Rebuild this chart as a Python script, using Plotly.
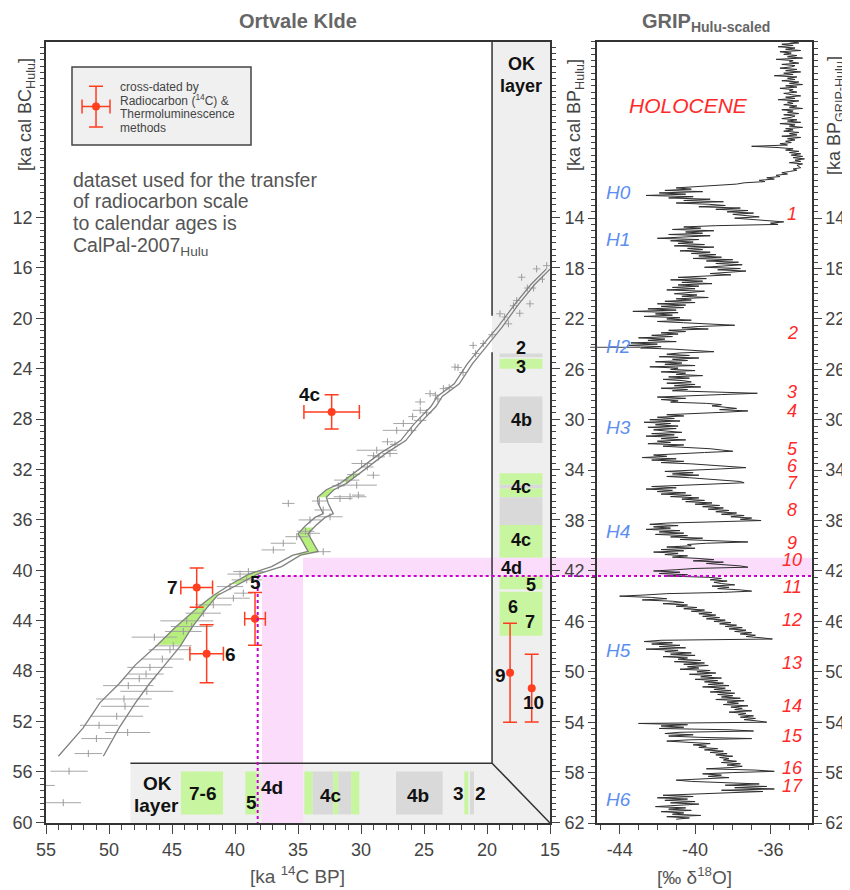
import numpy as np
import plotly.graph_objects as go

W, H = 850, 890
OFF = 8  # page body margin of the browser
def px(x):
    return (x - OFF) / W
def py(y):
    return 1 - (y - OFF) / H

# ---------------- DATA ----------------
# Calibration curve envelope (CalPal-2007 Hulu): cal ka BC vs 14C ka BP
cal_bc = [54.75, 52.5, 50.5, 49.0, 47.5, 46.0, 44.5, 43.0, 42.0, 41.0,
          40.3, 39.7, 38.8, 38.5, 37.6, 37.1, 36.5, 35.8, 35.5, 34.7,
          34.2, 33.6, 33.1, 32.3, 30.7, 29.7, 28.4, 27.0, 26.2, 25.2,
          23.6, 22.3, 20.7, 18.9, 17.3, 16.1]
cal_c14_old = [54.02, 52.05, 50.71, 49.2, 47.9, 46.25, 44.71, 43.02, 41.72, 40.16,
               38.9, 37.1, 35.4, 34.2, 34.7, 35.0, 34.45, 33.65, 33.0, 33.4,
               33.45, 32.75, 31.65, 30.6, 28.45, 26.85, 25.8, 24.45, 23.95, 22.6,
               21.55, 20.5, 19.15, 17.8, 16.5, 15.3]
cal_c14_young = [50.45, 49.2, 47.89, 46.8, 45.56, 44.33, 43.4, 42.25, 41.4, 39.5,
                 38.2, 36.3, 34.8, 33.4, 33.9, 34.2, 33.65, 32.85, 32.2, 32.6,
                 32.75, 32.15, 31.15, 30.1, 28.0, 26.45, 25.4, 24.05, 23.55, 22.2,
                 21.15, 20.1, 18.8, 17.5, 16.2, 15.0]

# calibration data points (14C age, 1-sigma, cal BC)
cal_pts_c14 = [53.17, 55.3, 53.63, 51.64, 51.0, 48.52, 50.79, 49.39, 48.73, 48.81,
               47.0, 48.47, 47.6, 47.06, 46.75, 45.77, 45.16, 44.9, 46.4, 44.1,
               43.44, 43.83, 42.52, 41.72, 40.13, 39.34, 40.4, 39.07, 38.94, 39.6,
               36.96, 36.17, 35.1, 34.05, 33.0, 34.05, 35.77, 33.0, 32.46, 31.67,
               30.87, 30.21, 30.34, 31.13, 29.95, 29.02, 28.75, 27.17, 27.7, 26.64,
               25.3, 25.3, 25.3, 24.52, 23.46, 22.54, 21.1, 18.97, 17.4, 17.25,
               16.06, 15.26, 16.59, 17.64, 18.3, 16.8, 17.9, 19.6, 20.9, 21.9,
               23.0, 23.9, 24.8, 26.0, 27.3, 28.6, 29.5, 31.8, 33.3, 34.4,
               22.3, 24.1, 25.9, 27.9, 29.0, 30.6, 20.3, 18.6, 16.3, 15.6]
cal_pts_err = [1.48, 1.0, 1.41, 1.1, 1.2, 1.79, 1.52, 2.1, 1.9, 2.2,
               2.1, 2.0, 1.3, 1.4, 1.8, 1.7, 1.7, 1.45, 1.8, 1.45,
               1.65, 2.1, 1.4, 1.45, 1.3, 0.73, 1.05, 1.2, 1.2, 1.0,
               0.93, 1.0, 0.9, 0.8, 0.6, 0.9, 0.5, 0.7, 1.0, 1.0,
               1.3, 0.5, 1.6, 1.0, 0.8, 0.5, 1.6, 1.1, 0.6, 0.8,
               0.5, 0.6, 0.4, 0.4, 0.3, 0.3, 0.3, 0.3, 0.3, 0.3,
               0.3, 0.3, 0.3, 0.3, 0.3, 0.25, 0.3, 0.3, 0.3, 0.3,
               0.35, 0.3, 0.4, 0.4, 0.4, 0.5, 0.5, 0.5, 0.6, 0.7,
               0.3, 0.3, 0.35, 0.45, 0.5, 0.5, 0.25, 0.25, 0.2, 0.2]
cal_pts_bc = [55.94, 57.07, 58.44, 54.54, 53.35, 52.87, 52.3, 51.58, 50.79, 50.21,
              49.6, 49.15, 48.6, 48.23, 47.7, 47.04, 46.3, 45.99, 45.3, 44.85,
              44.46, 44.01, 43.4, 42.74, 42.21, 41.81, 41.29, 40.76, 40.1, 40.3,
              38.38, 37.85, 37.33, 37.06, 38.52, 36.0, 34.69, 35.21, 35.75, 34.3,
              34.16, 34.03, 33.24, 32.84, 31.52, 32.45, 30.47, 28.89, 30.73, 28.35,
              28.1, 27.3, 26.64, 25.98, 25.58, 23.87, 22.15, 19.64, 19.6, 16.74,
              16.08, 15.82, 18.85, 18.59, 20.44, 17.6, 19.0, 21.3, 22.8, 24.3,
              25.5, 26.4, 27.5, 28.9, 30.0, 31.0, 31.8, 33.3, 34.5, 36.9,
              23.9, 26.1, 27.8, 29.8, 30.9, 32.4, 22.0, 19.9, 17.6, 16.9]

# Ortvale Klde samples cross-dated by 14C & TL
xd_labels = ["4c", "7", "5", "6"]
xd_c14 = [32.33, 43.04, 38.41, 42.25]
xd_c14_err = [2.2, 1.26, 0.82, 1.33]
xd_bc = [27.43, 41.37, 43.85, 46.62]
xd_bc_err = [1.36, 1.55, 2.1, 2.3]
# TL-only samples (no 14C error)
tl_labels = ["9", "10"]
tl_c14 = [18.17, 16.45]
tl_bc = [48.12, 49.35]
tl_bc_err = [3.93, 2.69]

# OK layers on the calendar scale (cal ka BC): top, bottom, kind
cal_layer_top = [22.8, 23.2, 26.2, 32.3, 33.2, 33.5, 34.2, 36.4, 40.1, 41.7]
cal_layer_bot = [23.1, 24.0, 29.9, 33.2, 33.5, 34.2, 36.4, 39.0, 41.5, 45.2]
cal_layer_kind = ["gray", "green", "gray", "green", "gray", "green", "gray", "green", "green", "green"]
# OK layers on the radiocarbon scale (14C ka BP): old, young, kind
c14_layer_old = [44.29, 39.18, 38.28, 34.5, 33.83, 32.2, 31.8, 30.79, 27.22, 21.8, 21.35]
c14_layer_young = [40.95, 38.28, 37.9, 33.83, 32.2, 31.8, 30.79, 30.13, 23.52, 21.48, 21.03]
c14_layer_kind = ["green", "green", "pale", "green", "gray", "green", "gray", "green", "gray", "green", "gray"]

# layer 4d ranges (highlighted)
l4d_bc = [39.0, 40.44]
l4d_c14 = [37.86, 34.6]
l4d_dot_bc = 40.44
l4d_dot_c14 = 38.2

# calibration-curve intervals coloured as OK layers (cal ka BC)
curve_green_bc = [[32.3, 33.0], [33.5, 34.2], [36.6, 38.8], [40.1, 41.1], [41.8, 45.9]]

# GRIP (Hulu-scaled) d18O, one value every 0.1 ka from 0 ka BP (one row per ka)
grip_start, grip_step = 0.0, 0.1
grip_d18o = [
    -35.0, -34.5, -35.4, -34.8, -35.6, -34.7, -35.2, -34.4, -35.5, -34.9,
    -35.3, -34.6, -35.1, -34.3, -35.7, -34.8, -35.0, -34.5, -35.4, -34.7,
    -34.9, -35.5, -34.6, -35.2, -34.4, -35.3, -34.8, -35.8, -34.6, -35.1,
    -34.7, -35.4, -34.5, -35.0, -34.3, -35.2, -34.6, -35.5, -34.8, -35.0,
    -34.6, -35.3, -34.9, -34.4, -35.2, -34.7, -35.6, -34.5, -35.1, -34.8,
    -35.3, -34.6, -35.0, -34.3, -35.4, -34.8, -35.1, -34.5, -35.3, -34.7,
    -34.9, -35.4, -34.6, -35.1, -34.4, -35.5, -34.7, -35.0, -34.3, -35.2,
    -34.8, -35.3, -34.5, -35.0, -34.6, -35.4, -34.4, -35.1, -34.7, -35.2,
    -34.9, -35.5, -35.1, -37.0, -35.6, -34.8, -35.2, -34.5, -35.0, -34.4,
    -34.9, -34.3, -34.8, -34.2, -34.7, -34.4, -35.0, -34.3, -34.6, -34.5,
    -34.4, -34.8, -34.6, -35.0, -35.4, -35.1, -35.7, -35.5, -36.2, -35.8,
    -36.6, -36.3, -37.4, -37.8, -38.7, -39.9, -41.0, -40.2, -41.6, -39.6,
    -41.9, -40.5, -42.6, -40.1, -41.4, -39.2, -40.6, -38.5, -41.0, -39.3,
    -38.4, -39.8, -37.6, -38.9, -37.2, -38.3, -36.9, -38.0, -37.3, -36.6,
    -37.9, -37.0, -36.5, -35.3, -36.0, -35.6, -38.9, -40.6, -39.7, -41.2,
    -39.0, -40.5, -39.6, -41.4, -39.2, -40.8, -42.0, -39.8, -41.3, -40.1,
    -40.9, -39.5, -41.1, -39.0, -40.4, -39.6, -40.8, -39.2, -40.2, -38.9,
    -39.8, -38.6, -40.1, -38.0, -39.4, -37.7, -38.9, -37.5, -38.6, -39.5,
    -37.6, -38.8, -37.3, -38.5, -39.2, -38.1, -39.9, -40.9, -39.4, -41.3,
    -39.6, -40.7, -39.1, -40.9, -39.8, -41.2, -40.0, -41.5, -39.5, -40.6,
    -41.1, -39.9, -40.7, -39.3, -41.0, -40.2, -41.6, -40.0, -42.0, -40.5,
    -41.8, -40.6, -42.5, -41.0, -43.3, -40.9, -42.1, -41.2, -42.7, -40.8,
    -41.5, -40.2, -42.0, -40.6, -39.4, -37.9, -39.8, -40.7, -39.3, -41.4,
    -40.5, -41.8, -40.9, -42.3, -41.2, -43.0, -41.6, -42.5, -41.0, -43.4,
    -42.0, -43.6, -41.8, -42.9, -41.1, -40.2, -39.0, -40.8, -41.5, -40.3,
    -41.9, -39.8, -41.2, -40.4, -42.1, -40.7, -41.6, -40.0, -42.4, -40.9,
    -41.3, -40.0, -41.8, -40.5, -41.0, -39.6, -41.4, -40.3, -41.7, -40.6,
    -40.2, -41.5, -40.0, -41.1, -39.7, -41.8, -40.4, -41.2, -38.4, -36.7,
    -38.6, -40.7, -42.0, -40.5, -41.8, -40.9, -41.3, -39.4, -38.6, -39.1,
    -38.2, -37.8, -38.7, -37.2, -38.4, -39.8, -41.5, -40.6, -42.0, -41.1,
    -42.4, -40.8, -42.7, -41.3, -42.1, -40.9, -42.5, -41.0, -42.2, -41.5,
    -40.7, -42.3, -41.1, -42.6, -40.9, -41.8, -40.5, -42.0, -41.3, -42.5,
    -40.6, -41.7, -40.1, -39.2, -38.6, -38.0, -39.5, -40.8, -42.2, -41.5,
    -42.8, -41.0, -42.3, -40.6, -41.8, -40.2, -39.0, -38.0, -37.3, -38.6,
    -40.4, -41.6, -40.1, -41.2, -39.8, -41.5, -40.3, -39.4, -38.3, -37.6,
    -37.4, -39.0, -40.8, -42.3, -41.0, -42.6, -41.2, -42.0, -40.5, -41.8,
    -40.2, -41.3, -39.8, -40.7, -39.5, -40.5, -39.1, -40.0, -38.7, -39.6,
    -38.5, -39.3, -38.2, -38.9, -37.8, -38.6, -37.4, -38.1, -37.0, -37.6,
    -36.5, -38.8, -41.5, -42.4, -40.9, -42.2, -41.3, -42.6, -40.8, -41.9,
    -40.6, -42.1, -40.4, -41.3, -39.6, -40.8, -38.6, -37.2, -39.4, -40.4,
    -40.2, -41.5, -40.0, -41.8, -40.6, -42.2, -40.9, -41.6, -40.4, -41.2,
    -39.9, -39.0, -40.1, -38.5, -39.4, -38.2, -37.6, -37.2, -40.0, -41.0,
    -42.2, -40.8, -41.9, -40.4, -41.6, -39.3, -38.6, -39.2, -38.3, -39.0,
    -38.6, -37.9, -39.1, -38.2, -38.8, -37.6, -37.0, -38.5, -41.5, -42.6,
    -44.0, -42.3, -41.5, -42.8, -41.2, -40.6, -41.7, -40.4, -41.0, -39.9,
    -40.6, -39.5, -40.2, -39.1, -39.8, -38.9, -39.6, -38.7, -39.4, -38.4,
    -39.0, -38.1, -38.7, -37.8, -38.4, -37.5, -38.2, -37.3, -37.9, -37.0,
    -37.6, -36.8, -37.3, -36.5, -35.9, -41.8, -42.7, -41.2, -42.3, -40.8,
    -41.9, -40.5, -42.6, -40.9, -41.6, -40.2, -41.3, -40.0, -41.7, -40.4,
    -40.9, -39.7, -41.1, -39.5, -40.6, -39.3, -40.4, -39.8, -40.8, -39.2,
    -39.9, -38.9, -40.3, -39.1, -39.7, -38.6, -40.0, -38.8, -39.5, -38.5,
    -39.3, -38.2, -39.6, -38.4, -39.0, -38.1, -39.2, -37.9, -38.8, -38.0,
    -38.6, -37.6, -38.9, -37.4, -38.3, -37.7, -38.5, -37.2, -38.1, -37.5,
    -37.9, -37.0, -38.2, -37.3, -37.7, -36.9, -37.6, -36.8, -37.4, -36.7,
    -36.2, -43.0, -40.4, -41.8, -40.6, -41.9, -38.2, -36.9, -40.8, -41.6,
    -40.1, -41.4, -39.8, -37.0, -40.3, -41.5, -40.0, -39.2, -40.1, -39.4,
    -39.8, -38.8, -39.5, -38.5, -39.2, -38.3, -38.9, -38.0, -38.7, -38.2,
    -38.5, -37.8, -38.6, -37.6, -38.3, -37.5, -38.1, -39.4, -36.8, -35.8,
    -38.0, -39.6, -38.6, -39.3, -38.2, -39.8, -41.0, -40.2, -38.8, -36.6,
    -38.4, -36.2, -37.9, -35.8, -38.6, -36.4, -38.2, -40.5, -41.7, -40.1,
    -42.0, -40.4, -41.6, -40.0, -41.3, -39.8, -40.9, -42.1, -40.5, -41.4,
    -40.2, -41.8, -40.6, -41.2, -39.7, -41.5, -40.3, -41.0,
]
grip_age = [round(grip_start + i * grip_step, 1) for i in range(len(grip_d18o))]

# stadial / interstadial labels on the GRIP panel (ka BP)
heinrich_labels = ["H0", "H1", "H2", "H3", "H4", "H5", "H6"]
heinrich_age = [12.0, 15.7, 24.2, 30.6, 38.9, 48.3, 60.1]
gi_labels = [str(i) for i in range(1, 18)]
gi_age = [13.7, 23.1, 27.8, 29.3, 32.35, 33.7, 35.05, 37.2, 39.75, 41.15,
          43.3, 45.9, 49.3, 52.7, 55.1, 57.6, 59.1]

BC_TO_BP = 1.95

# ---------------- COLOURS ----------------
GREEN = "#c8f5a0"
GRAY = "#d9d9d9"
PALE = "#e2f2d2"
STRIP = "#efefef"
PINK = "#fbdcfb"
RED = "#ff3d1f"
BLUE = "#5b8ef0"
TXT_RED = "#ff2a2a"
AX = "#333333"

fig = go.Figure()

# calibration curve green intervals
bc_rev = cal_bc[::-1]
old_rev = cal_c14_old[::-1]
young_rev = cal_c14_young[::-1]
for a, b in curve_green_bc:
    g = np.linspace(a, b, 25)
    xo = np.interp(g, bc_rev, old_rev)
    xy = np.interp(g, bc_rev, young_rev)
    fig.add_trace(go.Scatter(x=list(xo) + list(xy[::-1]), y=list(g) + list(g[::-1]),
                             fill="toself", fillcolor="#b6ef7c", mode="lines",
                             line=dict(width=0), hoverinfo="skip", showlegend=False))

# calibration data crosses
fig.add_trace(go.Scatter(x=cal_pts_c14, y=cal_pts_bc, mode="markers",
                         marker=dict(symbol="line-ns", size=5, line=dict(width=1, color="#9a9a9a")),
                         error_x=dict(type="data", array=cal_pts_err, color="#a6a6a6", thickness=1, width=0),
                         hoverinfo="skip", showlegend=False))

# calibration curve envelope
for arr in (cal_c14_old, cal_c14_young):
    fig.add_trace(go.Scatter(x=arr, y=cal_bc, mode="lines",
                             line=dict(color="#808080", width=1.3),
                             hoverinfo="skip", showlegend=False))

# cross-dated samples
fig.add_trace(go.Scatter(x=xd_c14, y=xd_bc, mode="markers",
                         marker=dict(color=RED, size=8),
                         error_x=dict(type="data", array=xd_c14_err, color=RED, thickness=1.5, width=7),
                         error_y=dict(type="data", array=xd_bc_err, color=RED, thickness=1.5, width=7),
                         hoverinfo="skip", showlegend=False))
fig.add_trace(go.Scatter(x=tl_c14, y=tl_bc, mode="markers",
                         marker=dict(color=RED, size=8),
                         error_y=dict(type="data", array=tl_bc_err, color=RED, thickness=1.5, width=7),
                         hoverinfo="skip", showlegend=False))
# legend glyph
fig.add_trace(go.Scatter(x=[51.03], y=[3.2], mode="markers",
                         marker=dict(color=RED, size=8),
                         error_x=dict(type="data", array=[1.11], color=RED, thickness=1.5, width=7),
                         error_y=dict(type="data", array=[1.62], color=RED, thickness=1.5, width=7),
                         hoverinfo="skip", showlegend=False))

# GRIP record
fig.add_trace(go.Scatter(x=grip_d18o, y=grip_age, xaxis="x2", yaxis="y2", mode="lines",
                         line=dict(color="#2e2e2e", width=1), hoverinfo="skip", showlegend=False))
fig.add_trace(go.Scatter(x=[-40], y=[30], xaxis="x2", yaxis="y3", mode="markers",
                         marker=dict(opacity=0), hoverinfo="skip", showlegend=False))

# ---------------- SHAPES ----------------
shapes = []
strip_c14 = 19.6
strip_bc = 55.3
strip_left = 48.3
ybot, ytop = 60.05, -1.95
xl, xr = 55, 15
shapes.append(dict(type="path", xref="x", yref="y", layer="below",
                   path=f"M {strip_left},{strip_bc} L {strip_c14},{strip_bc} L {strip_c14},{ytop} "
                        f"L {xr},{ytop} L {xr},{ybot} L {strip_left},{ybot} Z",
                   fillcolor=STRIP, line=dict(width=0)))
kind_col = {"green": GREEN, "gray": GRAY, "pale": PALE}
for t, b, k in zip(cal_layer_top, cal_layer_bot, cal_layer_kind):
    shapes.append(dict(type="rect", xref="x", yref="y", layer="below", x0=19.0, x1=15.6,
                       y0=t, y1=b, fillcolor=kind_col[k], line=dict(width=0)))
for o, yg, k in zip(c14_layer_old, c14_layer_young, c14_layer_kind):
    shapes.append(dict(type="rect", xref="x", yref="y", layer="below", x0=o, x1=yg,
                       y0=55.96, y1=59.37, fillcolor=kind_col[k], line=dict(width=0)))
# layer 4d highlight
shapes.append(dict(type="rect", xref="x", yref="y", layer="below", x0=l4d_c14[1], x1=xr,
                   y0=l4d_bc[0], y1=l4d_bc[1], fillcolor=PINK, line=dict(width=0)))
shapes.append(dict(type="rect", xref="x", yref="y", layer="below", x0=l4d_c14[0], x1=l4d_c14[1],
                   y0=l4d_bc[1], y1=ybot, fillcolor=PINK, line=dict(width=0)))
shapes.append(dict(type="rect", xref="paper", yref="y2", layer="below", x0=px(550), x1=px(812),
                   y0=l4d_bc[0] + BC_TO_BP, y1=l4d_bc[1] + BC_TO_BP, fillcolor=PINK, line=dict(width=0)))
# strip borders
shapes.append(dict(type="path", xref="x", yref="y", layer="below",
                   path=f"M {strip_left},{strip_bc} L {strip_c14},{strip_bc} L {xr},{ybot} "
                        f"M {strip_c14},{strip_bc} L {strip_c14},22.7 M {strip_c14},19.8 L {strip_c14},{ytop}",
                   line=dict(color=AX, width=1.5)))
# dotted 4d lines
shapes.append(dict(type="line", xref="x", yref="y", layer="above", x0=l4d_dot_c14, x1=xr,
                   y0=l4d_dot_bc, y1=l4d_dot_bc, line=dict(color="#cc00cc", width=2, dash="dot")))
shapes.append(dict(type="line", xref="x", yref="y", layer="above", x0=l4d_dot_c14, x1=l4d_dot_c14,
                   y0=l4d_dot_bc, y1=ybot, line=dict(color="#cc00cc", width=2, dash="dot")))
shapes.append(dict(type="line", xref="paper", yref="y2", layer="above", x0=px(550), x1=px(812),
                   y0=l4d_dot_bc + BC_TO_BP, y1=l4d_dot_bc + BC_TO_BP,
                   line=dict(color="#cc00cc", width=2, dash="dot")))
# H2 pointer
shapes.append(dict(type="line", xref="paper", yref="y2", layer="above", x0=px(590), x1=px(640),
                   y0=24.25, y1=24.25, line=dict(color="#444", width=1)))
# legend box
shapes.append(dict(type="rect", xref="paper", yref="paper", layer="below",
                   x0=px(72), x1=px(251), y0=py(145), y1=py(67),
                   fillcolor="#f0f0f0", line=dict(color="#444", width=1.5)))

# ---------------- TEXT ----------------
ann = []
def add_text(t, x, y, size=19, color="#111111", bold=False, italic=False,
             xanchor="center", yanchor="middle", angle=0, align="center"):
    if bold:
        t = f"<b>{t}</b>"
    if italic:
        t = f"<i>{t}</i>"
    ann.append(dict(text=t, x=px(x), y=py(y), xref="paper", yref="paper", showarrow=False,
                    font=dict(size=size, color=color), xanchor=xanchor, yanchor=yanchor,
                    textangle=angle, align=align))

add_text("Ortvale Klde", 298, 8, size=20, color="#666", bold=True, yanchor="top")
add_text("GRIP<sub>Hulu-scaled</sub>", 706, 8, size=20, color="#666", bold=True, yanchor="top")
add_text("[ka <sup>14</sup>C BP]", 297, 875, size=19, color="#555")
add_text("[‰ δ<sup>18</sup>O]", 694, 876, size=19, color="#555")
add_text("[ka cal BC<sub>Hulu</sub>]", 26, 115, size=18, color="#444", angle=-90)
add_text("[ka cal BP<sub>Hulu</sub>]", 575, 115, size=18, color="#444", angle=-90)
add_text("[ka BP<sub>GRIP-Hulu</sub>]", 836, 116, size=18, color="#444", angle=-90)

for t, y in [("cross-dated by", 87), ("Radiocarbon (<sup>14</sup>C) &amp;", 100.5),
             ("Thermoluminescence", 114.5), ("methods", 128)]:
    add_text(t, 118, y, size=12, color="#444", xanchor="left", align="left")
for t, y in [("dataset used for the transfer", 180), ("of radiocarbon scale", 201.5),
             ("to calendar ages is", 223), ("CalPal-2007<sub>Hulu</sub>", 246)]:
    add_text(t, 71, y, size=19.5, color="#555", xanchor="left", align="left")

# sample labels
for t, x, y in [("4c", 310, 395), ("7", 172, 587), ("5", 255, 582), ("6", 230, 654),
                ("9", 500, 675), ("10", 533, 702)]:
    add_text(t, x, y, bold=True)
# vertical strip
for t, x, y in [("OK", 521, 64), ("layer", 521, 86), ("2", 521, 348), ("3", 521, 367),
                ("4b", 521, 420), ("4c", 521, 487), ("4c", 521, 540), ("4d", 512, 568),
                ("5", 531, 585), ("6", 513, 607), ("7", 530, 622)]:
    add_text(t, x, y, size=18, bold=True)
# horizontal strip
for t, x, y in [("OK", 157, 783), ("layer", 156, 805), ("7-6", 202, 793), ("5", 251, 802),
                ("4d", 272, 787), ("4c", 331, 795), ("4b", 418, 795), ("3", 458, 793), ("2", 480, 793)]:
    add_text(t, x, y, bold=True)

# GRIP labels
def bp_to_py(a):
    return 41.7 + a / 62.0 * 781.3
add_text("HOLOCENE", 688, 105, size=21, color=TXT_RED, italic=True)
for t, a in zip(heinrich_labels, heinrich_age):
    add_text(t, 618, bp_to_py(a), size=19, color=BLUE, italic=True)
for t, a in zip(gi_labels, gi_age):
    add_text(t, 792, bp_to_py(a), size=18, color=TXT_RED, italic=True)

# ---------------- AXES ----------------
tickfont = dict(size=18, color="#444")
y_bc_vals = list(range(12, 61, 4))
y_bp_vals = list(range(14, 63, 4))
x_c14_vals = list(range(15, 56, 5))
x_d18_vals = [-44, -40, -36]

common = dict(showgrid=False, zeroline=False, showline=True, linecolor=AX, linewidth=1.5,
              ticks="outside", tickcolor="#444", tickwidth=1.2, tickfont=tickfont,
              automargin=False)

def minor(dt, ln):
    return dict(tickmode="linear", tick0=0, dtick=dt, ticks="outside", ticklen=ln,
                tickcolor="#444", showgrid=False)

fig.update_layout(
    width=W, height=H, margin=dict(l=0, r=0, t=0, b=0, autoexpand=False),
    paper_bgcolor="white", plot_bgcolor="rgba(0,0,0,0)", showlegend=False,
    font=dict(family="Liberation Sans, Arial, Helvetica, sans-serif", color="#444"),
    xaxis=dict(domain=[px(46), px(550)], range=[xl, xr], anchor="y", mirror=True,
               tickmode="array", tickvals=x_c14_vals, ticktext=[str(v) for v in x_c14_vals],
               ticklen=9, ticklabelstandoff=1, minor=minor(1, 5), **common),
    yaxis=dict(domain=[py(823), py(41.7)], range=[ybot, ytop], anchor="x", mirror="allticks",
               tickmode="array", tickvals=y_bc_vals, ticktext=[str(v) for v in y_bc_vals],
               ticklen=8, ticklabelstandoff=0, minor=minor(0.5, 4), **common),
    xaxis2=dict(domain=[px(597), px(812)], range=[-45.2, -33.8], anchor="y2", mirror=True,
                tickmode="array", tickvals=x_d18_vals, ticktext=[str(v) for v in x_d18_vals],
                ticklen=9, ticklabelstandoff=1, minor=minor(1, 5), **common),
    yaxis2=dict(domain=[py(823), py(41.7)], range=[62, 0], anchor="x2", mirror=True,
                tickmode="array", tickvals=y_bp_vals, ticktext=[str(v) for v in y_bp_vals],
                ticklen=7, ticklabelstandoff=0, minor=minor(0.5, 4), **common),
    yaxis3=dict(range=[62, 0], anchor="x2", overlaying="y2", side="right",
                tickmode="array", tickvals=y_bp_vals, ticktext=[str(v) for v in y_bp_vals],
                ticklen=8, ticklabelstandoff=0, minor=minor(0.5, 4), **common),
    shapes=shapes, annotations=ann,
)

fig.write_html("out.html")
